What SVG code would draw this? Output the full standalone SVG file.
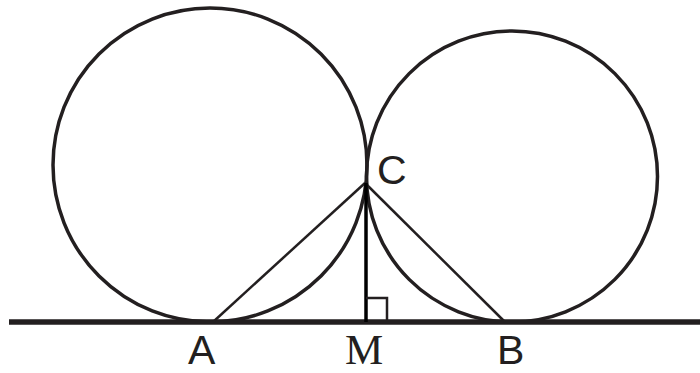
<svg xmlns="http://www.w3.org/2000/svg" width="700" height="373" viewBox="0 0 700 373">
<style>
.c{fill:none;stroke:#231f20;stroke-width:3.5}
.l{stroke:#231f20;stroke-width:2.5;fill:none}
.s{font-family:"Liberation Sans",Arial,sans-serif;font-size:41px;fill:#231f20}
.m{font-family:"Liberation Serif","Times New Roman",serif;font-size:43px;fill:#231f20}
</style>
<rect width="700" height="373" fill="#fff"/>
<g id="circleLeft"><circle class="c" cx="210" cy="165" r="157"/></g>
<g id="circleRight"><circle class="c" cx="512" cy="176.5" r="145.5"/></g>
<g id="connectors">
<line x1="9" y1="322" x2="700" y2="322" stroke="#231f20" stroke-width="5.5"/>
<line class="l" x1="213" y1="322" x2="365" y2="183"/>
<line class="l" x1="505" y1="322" x2="365" y2="183"/>
<line x1="366" y1="183" x2="366" y2="322" stroke="#000" stroke-width="3.5"/>
<polyline class="l" points="366,298 387,298 387,320" stroke-width="3"/>
</g>
<g id="labels">
<text class="s" x="188" y="364">A</text>
<text class="m" x="345" y="364">M</text>
<text class="s" x="497" y="364">B</text>
<text class="s" x="377" y="184">C</text>
</g>
</svg>
